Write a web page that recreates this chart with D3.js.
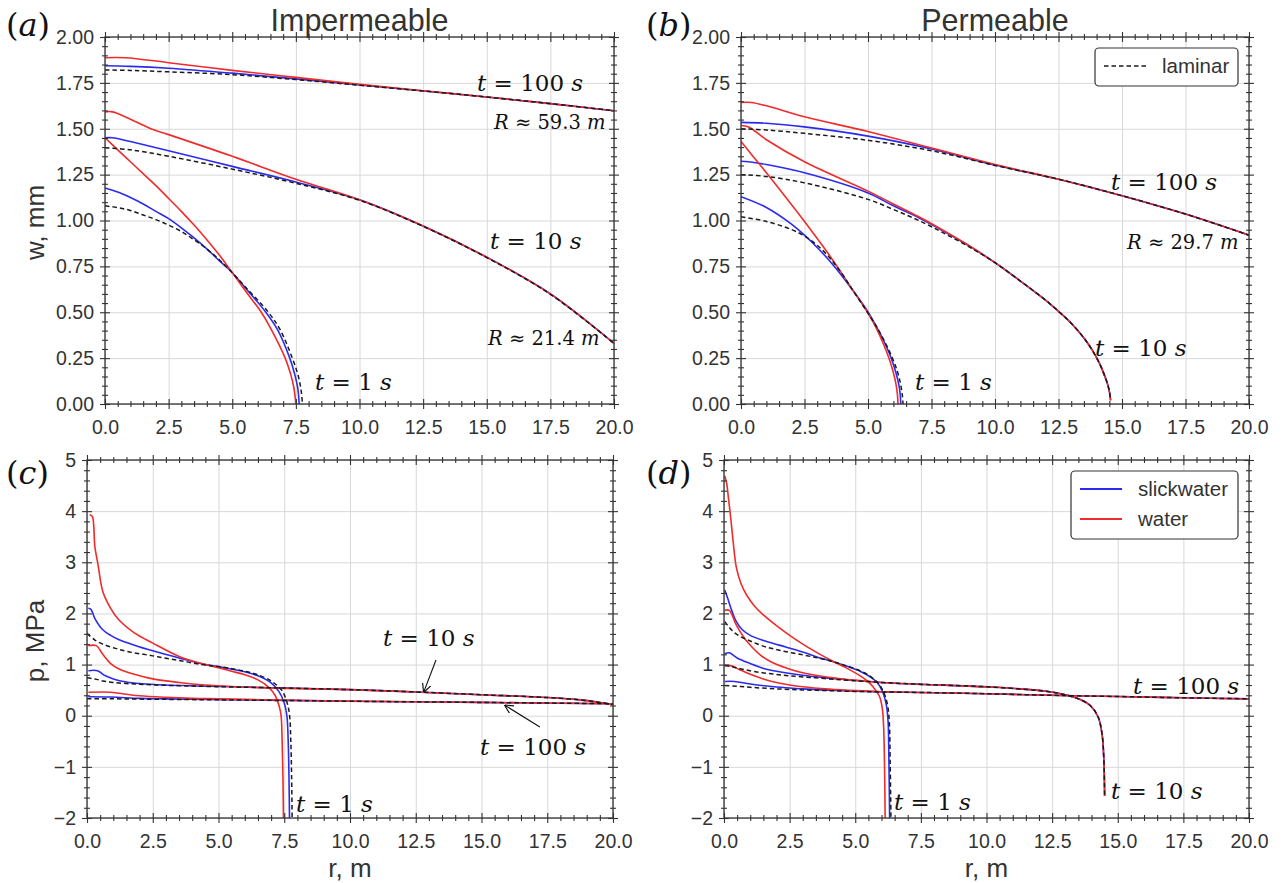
<!DOCTYPE html>
<html><head><meta charset="utf-8">
<script src="https://cdn.jsdelivr.net/npm/d3@7"></script>
<style>body{margin:0;background:#fff}</style>
</head><body>
<svg id="chart" width="1282" height="883"></svg>
<script>
// ---------- tick labels ----------
const rTicks = [0,2.5,5,7.5,10,12.5,15,17.5,20];
const rTickLabels = ["0.0","2.5","5.0","7.5","10.0","12.5","15.0","17.5","20.0"];
const wTicks = [0,0.25,0.5,0.75,1,1.25,1.5,1.75,2];
const wTickLabels = ["0.00","0.25","0.50","0.75","1.00","1.25","1.50","1.75","2.00"];
const pTicks = [-2,-1,0,1,2,3,4,5];
const pTickLabels = ["\u22122","\u22121","0","1","2","3","4","5"];

// ---------- (a) impermeable, opening w [mm] vs r [m] ----------
const a_t1_slick = [[0,1.177],[0.5,1.155],[1,1.125],[1.5,1.09],[2,1.05],[2.5,1.01],[3,0.96],[3.5,0.905],[4,0.845],[4.5,0.78],[4.9,0.73],[5.5,0.635],[6.32,0.5],[6.8,0.4],[7.26,0.25],[7.45,0.165],[7.57,0.09],[7.63,0]];
const a_t1_water = [[0,1.451],[0.5,1.385],[1,1.32],[1.5,1.255],[2,1.19],[2.5,1.12],[3,1.05],[3.5,0.975],[4,0.895],[4.5,0.81],[4.9,0.735],[5.5,0.62],[6.14,0.5],[6.5,0.415],[7.08,0.25],[7.3,0.16],[7.42,0.09],[7.5,0]];
const a_t1_lam = [[0,1.08],[0.5,1.07],[1,1.055],[1.5,1.03],[2,1.005],[2.5,0.975],[3,0.94],[3.5,0.895],[4,0.845],[4.5,0.785],[4.9,0.73],[5.5,0.64],[6.42,0.5],[6.9,0.4],[7.36,0.25],[7.58,0.16],[7.7,0.08],[7.76,0]];
const a_t10_slick = [[0,1.451],[0.3,1.451],[1,1.43],[2.5,1.38],[5,1.295],[7.5,1.21],[10,1.113],[12.5,0.97],[15,0.8],[17.5,0.6],[20,0.33]];
const a_t10_water = [[0,1.592],[0.3,1.592],[1,1.552],[1.8,1.5],[2.5,1.468],[5,1.35],[7.5,1.225],[10,1.113],[12.5,0.97],[15,0.8],[17.5,0.6],[20,0.33]];
const a_t10_lam = [[0,1.396],[1,1.385],[2.5,1.35],[5,1.28],[7.5,1.203],[10,1.11],[12.5,0.968],[15,0.798],[17.5,0.598],[20,0.33]];
const a_t100_slick = [[0,1.843],[1,1.84],[2.5,1.83],[5,1.803],[7.5,1.772],[10,1.739],[12.5,1.706],[15,1.673],[17.5,1.637],[20,1.598]];
const a_t100_water = [[0,1.887],[0.8,1.887],[2.5,1.86],[5,1.818],[7.5,1.78],[10,1.742],[12.5,1.707],[15,1.673],[17.5,1.637],[20,1.598]];
const a_t100_lam = [[0,1.82],[1,1.818],[2.5,1.81],[5,1.795],[7.5,1.768],[10,1.737],[12.5,1.706],[15,1.673],[17.5,1.637],[20,1.598]];

// ---------- (b) permeable, opening w [mm] vs r [m] ----------
const b_t1_slick = [[0,1.13],[1,1.071],[2,0.979],[2.5,0.92],[3,0.853],[3.5,0.778],[4,0.694],[4.4,0.62],[4.7,0.563],[5.0,0.502],[5.3,0.43],[5.6,0.35],[5.9,0.255],[6.1,0.17],[6.22,0.1],[6.27,0.05],[6.29,0]];
const b_t1_water = [[0,1.43],[0.5,1.345],[1,1.26],[1.5,1.173],[2,1.085],[2.5,0.995],[3,0.902],[3.5,0.807],[4,0.705],[4.4,0.62],[4.7,0.56],[5.0,0.495],[5.3,0.42],[5.6,0.33],[5.85,0.24],[6.0,0.17],[6.1,0.11],[6.16,0.05],[6.18,0]];
const b_t1_lam = [[0,1.02],[1,0.995],[2,0.95],[2.5,0.915],[3,0.865],[3.5,0.795],[4,0.705],[4.4,0.62],[4.7,0.558],[5.0,0.495],[5.3,0.43],[5.6,0.355],[5.9,0.27],[6.15,0.18],[6.28,0.11],[6.35,0.05],[6.38,0]];
const b_t10_slick = [[0,1.323],[0.3,1.32],[1,1.305],[2.5,1.26],[5,1.15],[6,1.08],[7,1.015],[8,0.94],[9,0.86],[10,0.77],[11,0.67],[12,0.565],[12.5,0.505],[13,0.44],[13.5,0.36],[13.8,0.3],[14.1,0.225],[14.3,0.16],[14.45,0.1],[14.52,0.055],[14.55,0.02]];
const b_t10_water = [[0,1.518],[0.3,1.51],[1,1.44],[2.5,1.32],[5,1.16],[6,1.09],[7,1.02],[8,0.943],[9,0.861],[10,0.77],[11,0.67],[12,0.565],[12.5,0.505],[13,0.44],[13.5,0.36],[13.8,0.3],[14.1,0.225],[14.3,0.16],[14.45,0.1],[14.52,0.055],[14.55,0.02]];
const b_t10_lam = [[0,1.25],[1,1.24],[2.5,1.205],[5,1.115],[6,1.06],[7,1.0],[8,0.93],[9,0.855],[10,0.77],[11,0.67],[12,0.565],[12.5,0.505],[13,0.44],[13.5,0.36],[13.8,0.3],[14.1,0.225],[14.3,0.16],[14.45,0.1],[14.52,0.055],[14.55,0.02]];
const b_t100_slick = [[0,1.535],[1,1.53],[2.5,1.51],[5,1.46],[7.5,1.39],[10,1.302],[12.5,1.225],[15,1.135],[17.5,1.035],[20,0.92]];
const b_t100_water = [[0,1.643],[0.4,1.643],[1,1.625],[2.5,1.565],[5,1.485],[7.5,1.395],[10,1.305],[12.5,1.225],[15,1.135],[17.5,1.035],[20,0.92]];
const b_t100_lam = [[0,1.5],[1,1.493],[2.5,1.475],[5,1.437],[7.5,1.38],[10,1.3],[12.5,1.225],[15,1.135],[17.5,1.035],[20,0.92]];

// ---------- (c) impermeable, pressure p [MPa] vs r [m] ----------
const c_t1_slick = [[0.05,2.1],[0.15,2.08],[0.3,1.9],[0.6,1.68],[0.9,1.57],[1.2,1.49],[1.8,1.38],[2.5,1.27],[3.5,1.13],[4.5,1.0],[5,0.96],[5.5,0.91],[6,0.86],[6.5,0.78],[7,0.64],[7.3,0.47],[7.5,0.25],[7.6,0],[7.65,-0.5],[7.68,-1.2],[7.7,-2]];
const c_t1_water = [[0.1,3.93],[0.2,3.9],[0.3,3.3],[0.42,2.95],[0.6,2.43],[0.9,2.1],[1.2,1.88],[1.8,1.62],[2.5,1.42],[3.5,1.16],[4.5,1.0],[5,0.94],[5.5,0.87],[6,0.8],[6.5,0.7],[6.9,0.56],[7.15,0.4],[7.3,0.2],[7.38,0],[7.42,-0.5],[7.45,-1.2],[7.47,-2]];
const c_t1_lam = [[0,1.61],[0.3,1.48],[0.6,1.4],[1,1.33],[1.5,1.26],[2.5,1.17],[3.5,1.08],[4.5,0.99],[5,0.96],[5.5,0.92],[6,0.87],[6.5,0.8],[7,0.68],[7.4,0.5],[7.6,0.27],[7.7,0.02],[7.75,-0.5],[7.78,-1.2],[7.8,-2]];
const c_t10_slick = [[0.05,0.88],[0.4,0.88],[0.7,0.78],[1,0.72],[1.5,0.66],[2,0.63],[3,0.6],[4,0.585],[5,0.57],[6,0.56],[7,0.548],[8,0.537],[10,0.51],[12.5,0.465],[15,0.41],[17.5,0.355],[18.75,0.31],[19.5,0.26],[20,0.22]];
const c_t10_water = [[0.05,1.37],[0.35,1.37],[0.6,1.2],[0.9,1.02],[1.2,0.92],[1.8,0.81],[2.5,0.72],[3.5,0.65],[4.5,0.6],[5.5,0.57],[6.5,0.55],[7.5,0.535],[10,0.51],[12.5,0.465],[15,0.41],[17.5,0.355],[18.75,0.31],[19.5,0.26],[20,0.22]];
const c_t10_lam = [[0,0.74],[0.3,0.72],[0.6,0.68],[1,0.65],[2,0.615],[3,0.595],[4,0.58],[5,0.568],[6,0.557],[7,0.547],[8,0.536],[10,0.51],[12.5,0.465],[15,0.41],[17.5,0.355],[18.75,0.31],[19.5,0.26],[20,0.22]];
const c_t100_slick = [[0.05,0.37],[0.9,0.365],[2,0.34],[3,0.33],[5,0.315],[7.5,0.3],[10,0.283],[15,0.26],[20,0.235]];
const c_t100_water = [[0.05,0.46],[0.9,0.46],[1.5,0.42],[2,0.39],[3,0.36],[4,0.34],[5,0.33],[7.5,0.305],[10,0.285],[15,0.26],[20,0.235]];
const c_t100_lam = [[0,0.33],[1,0.33],[2,0.325],[3,0.32],[5,0.31],[7.5,0.298],[10,0.283],[15,0.26],[20,0.235]];

// ---------- (d) permeable, pressure p [MPa] vs r [m] ----------
const d_t1_slick = [[0.03,2.46],[0.15,2.28],[0.3,2.05],[0.47,1.84],[0.7,1.68],[1,1.57],[1.5,1.47],[2.1,1.38],[3,1.245],[3.66,1.13],[4.13,1.06],[4.6,0.98],[5.22,0.86],[5.6,0.75],[5.85,0.64],[6.05,0.46],[6.18,0.22],[6.25,-0.1],[6.28,-0.8],[6.31,-2]];
const d_t1_water = [[0.03,4.69],[0.1,4.55],[0.16,4.3],[0.25,3.9],[0.35,3.4],[0.47,2.9],[0.65,2.58],[0.86,2.36],[1.2,2.12],[1.5,1.97],[2,1.76],[2.42,1.6],[3,1.4],[3.66,1.2],[4.13,1.07],[4.6,0.95],[5.22,0.77],[5.5,0.66],[5.7,0.55],[5.92,0.38],[6.03,0.15],[6.08,-0.2],[6.11,-0.8],[6.14,-2]];
const d_t1_lam = [[0.03,1.84],[0.3,1.67],[0.55,1.57],[1,1.46],[1.5,1.36],[2.2,1.27],[3,1.19],[3.66,1.12],[4.13,1.06],[4.6,0.985],[5.22,0.87],[5.6,0.76],[5.9,0.62],[6.1,0.44],[6.24,0.18],[6.3,-0.15],[6.33,-0.9],[6.36,-2]];
const d_t10_slick = [[0.03,1.21],[0.2,1.23],[0.5,1.13],[1,1.02],[1.48,0.93],[2,0.87],[3,0.79],[4,0.735],[5,0.69],[6.2,0.645],[7.7,0.61],[10.2,0.56],[12.4,0.47],[13,0.41],[13.5,0.33],[13.95,0.2],[14.25,-0.02],[14.4,-0.35],[14.47,-0.85],[14.5,-1.57]];
const d_t10_water = [[0.03,2.06],[0.2,2.06],[0.47,1.77],[0.8,1.5],[1,1.38],[1.4,1.18],[1.8,1.05],[2.4,0.93],[3,0.84],[4,0.75],[4.6,0.71],[5.5,0.67],[6.2,0.645],[7.7,0.61],[10.2,0.56],[12.4,0.47],[13,0.41],[13.5,0.33],[13.95,0.2],[14.25,-0.02],[14.4,-0.35],[14.47,-0.85],[14.5,-1.57]];
const d_t10_lam = [[0.03,0.98],[0.3,0.96],[0.7,0.91],[1.2,0.86],[1.8,0.82],[2.5,0.78],[3.5,0.74],[4.5,0.7],[5.3,0.675],[6.2,0.645],[7.7,0.61],[10.2,0.56],[12.4,0.47],[13,0.41],[13.5,0.33],[13.95,0.2],[14.25,-0.02],[14.4,-0.35],[14.47,-0.85],[14.5,-1.57]];
const d_t100_slick = [[0.03,0.67],[0.4,0.67],[1,0.62],[2,0.56],[3,0.525],[4,0.5],[5,0.48],[6,0.467],[7.5,0.455],[10,0.43],[12.4,0.4],[15,0.375],[17.5,0.35],[20,0.33]];
const d_t100_water = [[0.03,0.98],[0.25,0.98],[0.6,0.9],[1,0.81],[1.5,0.72],[2,0.65],[2.5,0.6],[3,0.565],[4,0.52],[5,0.49],[6,0.47],[7.5,0.455],[10,0.43],[12.4,0.4],[15,0.375],[17.5,0.35],[20,0.33]];
const d_t100_lam = [[0.03,0.59],[0.5,0.575],[1,0.555],[2,0.525],[3,0.505],[4,0.49],[5,0.475],[6,0.465],[7.5,0.455],[10,0.43],[12.4,0.4],[15,0.375],[17.5,0.35],[20,0.33]];

// ---------- styling / layout ----------
const COL = {slick:"#2b2bef", water:"#ef2b2b", lam:"#1a1a1a"};
const SANS = "'Liberation Sans', Arial, sans-serif";
const SERIF = "'DejaVu Serif', serif";
const TXT = "#333";

const svg = d3.select("#chart");
svg.append("rect").attr("width",1282).attr("height",883).attr("fill","#fff");

function panel(id, L, yDom, yTicks, yLabels, yMinor, series) {
  const x = d3.scaleLinear().domain([0,20]).range([L.left, L.right]);
  const y = d3.scaleLinear().domain(yDom).range([L.bottom, L.top]);
  const g = svg.append("g");
  const W = L.right - L.left, H = L.bottom - L.top;

  // grid
  const gx = g.append("g").attr("transform",`translate(0,${L.bottom})`)
    .call(d3.axisBottom(x).tickValues(rTicks).tickSize(-H).tickFormat(""));
  const gy = g.append("g").attr("transform",`translate(${L.left},0)`)
    .call(d3.axisLeft(y).tickValues(yTicks).tickSize(-W).tickFormat(""));
  [gx,gy].forEach(s=>{ s.select(".domain").remove(); s.selectAll("line").attr("stroke","#d8d8d8").attr("stroke-width",1); });

  // curves
  const clipId = "clip"+id;
  g.append("clipPath").attr("id",clipId).append("rect")
    .attr("x",L.left).attr("y",L.top-2).attr("width",W).attr("height",H+2);
  const line = d3.line().x(d=>x(d[0])).y(d=>y(d[1])).curve(d3.curveCatmullRom.alpha(0.5));
  const cg = g.append("g").attr("clip-path",`url(#${clipId})`);
  ["slick","water","lam"].forEach(k=>{
    series.filter(s=>s.k===k).forEach(s=>{
      cg.append("path").attr("d",line(s.d)).attr("fill","none")
        .attr("stroke",COL[k]).attr("stroke-width",k==="lam"?1.5:1.6)
        .attr("stroke-dasharray",k==="lam"?"4.5,3":null)
        .attr("stroke-linejoin","round");
    });
  });

  // axes with ticks (inout)
  const mk = (sel)=>{ sel.select(".domain").remove(); sel.selectAll("line").attr("stroke","#333").attr("stroke-width",1.1); };
  const xMinor = d3.range(0,20.001,0.5).filter(v=>Math.abs(v/2.5-Math.round(v/2.5))>1e-6);
  const yMinorV = d3.range(yDom[0],yDom[1]+1e-6,yMinor).filter(v=>!yTicks.some(t=>Math.abs(t-v)<1e-6));

  // bottom
  const ab = g.append("g").attr("transform",`translate(0,${L.bottom})`)
    .call(d3.axisBottom(x).tickValues(rTicks).tickFormat((d,i)=>rTickLabels[i]).tickSize(5).tickPadding(11));
  mk(ab); ab.selectAll(".tick line").attr("y1",-5);
  ab.selectAll("text").attr("font-family",SANS).attr("font-size",19.5).attr("fill",TXT);
  const abm = g.append("g").attr("transform",`translate(0,${L.bottom})`)
    .call(d3.axisBottom(x).tickValues(xMinor).tickFormat("").tickSize(3));
  mk(abm); abm.selectAll(".tick line").attr("y1",-3);
  // top
  const at = g.append("g").attr("transform",`translate(0,${L.top})`)
    .call(d3.axisTop(x).tickValues(rTicks).tickFormat("").tickSize(5));
  mk(at); at.selectAll(".tick line").attr("y1",5);
  const atm = g.append("g").attr("transform",`translate(0,${L.top})`)
    .call(d3.axisTop(x).tickValues(xMinor).tickFormat("").tickSize(3));
  mk(atm); atm.selectAll(".tick line").attr("y1",3);
  // left
  const al = g.append("g").attr("transform",`translate(${L.left},0)`)
    .call(d3.axisLeft(y).tickValues(yTicks).tickFormat((d,i)=>yLabels[i]).tickSize(5).tickPadding(6));
  mk(al); al.selectAll(".tick line").attr("x1",5);
  al.selectAll("text").attr("font-family",SANS).attr("font-size",19.5).attr("fill",TXT);
  const alm = g.append("g").attr("transform",`translate(${L.left},0)`)
    .call(d3.axisLeft(y).tickValues(yMinorV).tickFormat("").tickSize(3));
  mk(alm); alm.selectAll(".tick line").attr("x1",3);
  // right
  const ar = g.append("g").attr("transform",`translate(${L.right},0)`)
    .call(d3.axisRight(y).tickValues(yTicks).tickFormat("").tickSize(5));
  mk(ar); ar.selectAll(".tick line").attr("x1",-5);
  const arm = g.append("g").attr("transform",`translate(${L.right},0)`)
    .call(d3.axisRight(y).tickValues(yMinorV).tickFormat("").tickSize(3));
  mk(arm); arm.selectAll(".tick line").attr("x1",-3);

  // frame
  g.append("rect").attr("x",L.left).attr("y",L.top).attr("width",W).attr("height",H)
    .attr("fill","none").attr("stroke","#333").attr("stroke-width",1.3);
  return {x,y,g};
}

function mathText(x, y, parts, size) {
  const t = svg.append("text").attr("x",x).attr("y",y)
    .attr("font-family",SERIF).attr("font-size",size).attr("fill","#111");
  parts.forEach(p=>{
    t.append("tspan").attr("font-style",p[1]?"italic":"normal").text(p[0]);
  });
  return t;
}
function tLabel(x,y,num){ return mathText(x,y,[["t",1],[" = "+num+" ",0],["s",1]],23); }
function rLabel(x,y,num){ return mathText(x,y,[["R",1],[" \u2248 "+num+" ",0],["m",1]],19.5); }
function letter(x,y,ch){ return mathText(x,y,[["(",0],[ch,1],[")",0]],32); }

const LA = {left:105,right:614,top:37,bottom:404};
const LB = {left:741,right:1249,top:37,bottom:404};
const LC = {left:87,right:613,top:460,bottom:818};
const LD = {left:724,right:1249,top:460,bottom:818};

const pa = panel("a", LA, [0,2], wTicks, wTickLabels, 0.05, [
  {k:"slick",d:a_t1_slick},{k:"water",d:a_t1_water},{k:"lam",d:a_t1_lam},
  {k:"slick",d:a_t10_slick},{k:"water",d:a_t10_water},{k:"lam",d:a_t10_lam},
  {k:"slick",d:a_t100_slick},{k:"water",d:a_t100_water},{k:"lam",d:a_t100_lam}]);
const pb = panel("b", LB, [0,2], wTicks, wTickLabels, 0.05, [
  {k:"slick",d:b_t1_slick},{k:"water",d:b_t1_water},{k:"lam",d:b_t1_lam},
  {k:"slick",d:b_t10_slick},{k:"water",d:b_t10_water},{k:"lam",d:b_t10_lam},
  {k:"slick",d:b_t100_slick},{k:"water",d:b_t100_water},{k:"lam",d:b_t100_lam}]);
const pc = panel("c", LC, [-2,5], pTicks, pTickLabels, 0.2, [
  {k:"slick",d:c_t1_slick},{k:"water",d:c_t1_water},{k:"lam",d:c_t1_lam},
  {k:"slick",d:c_t10_slick},{k:"water",d:c_t10_water},{k:"lam",d:c_t10_lam},
  {k:"slick",d:c_t100_slick},{k:"water",d:c_t100_water},{k:"lam",d:c_t100_lam}]);
const pd = panel("d", LD, [-2,5], pTicks, pTickLabels, 0.2, [
  {k:"slick",d:d_t1_slick},{k:"water",d:d_t1_water},{k:"lam",d:d_t1_lam},
  {k:"slick",d:d_t10_slick},{k:"water",d:d_t10_water},{k:"lam",d:d_t10_lam},
  {k:"slick",d:d_t100_slick},{k:"water",d:d_t100_water},{k:"lam",d:d_t100_lam}]);

// titles
svg.append("text").attr("x",(LA.left+LA.right)/2).attr("y",31).attr("text-anchor","middle")
  .attr("font-family",SANS).attr("font-size",30.5).attr("fill",TXT).text("Impermeable");
svg.append("text").attr("x",(LB.left+LB.right)/2).attr("y",31).attr("text-anchor","middle")
  .attr("font-family",SANS).attr("font-size",30.5).attr("fill",TXT).text("Permeable");

// axis labels
svg.append("text").attr("transform",`translate(44,${(LA.top+LA.bottom)/2+2}) rotate(-90)`)
  .attr("text-anchor","middle").attr("font-family",SANS).attr("font-size",26).attr("fill",TXT).text("w, mm");
svg.append("text").attr("transform",`translate(44,${(LC.top+LC.bottom)/2+2}) rotate(-90)`)
  .attr("text-anchor","middle").attr("font-family",SANS).attr("font-size",26).attr("fill",TXT).text("p, MPa");
svg.append("text").attr("x",(LC.left+LC.right)/2).attr("y",877).attr("text-anchor","middle")
  .attr("font-family",SANS).attr("font-size",26).attr("fill",TXT).text("r, m");
svg.append("text").attr("x",(LD.left+LD.right)/2).attr("y",877).attr("text-anchor","middle")
  .attr("font-family",SANS).attr("font-size",26).attr("fill",TXT).text("r, m");

// panel letters
letter(6,36,"a"); letter(646,36,"b"); letter(6,484,"c"); letter(646,484,"d");

// annotations
tLabel(477,91,"100"); rLabel(494,129,"59.3");
tLabel(490,249,"10");  rLabel(488,345,"21.4");
tLabel(315,390,"1");
tLabel(1111,190,"100"); rLabel(1127,249,"29.7");
tLabel(1095,356,"10"); tLabel(915,390,"1");
tLabel(383,646,"10"); tLabel(480,755,"100"); tLabel(296,812,"1");
tLabel(1133,694,"100"); tLabel(1111,799,"10"); tLabel(894,810,"1");

// arrows in (c)
const defs = svg.append("defs");
defs.append("marker").attr("id","arr").attr("viewBox","0 0 10 10").attr("refX",9).attr("refY",5)
  .attr("markerWidth",9).attr("markerHeight",9).attr("orient","auto-start-reverse")
  .attr("markerUnits","userSpaceOnUse")
  .append("path").attr("d","M0,0 L10,5 L0,10").attr("fill","none").attr("stroke","#111").attr("stroke-width",1.3);
function arrow(p, from, to){
  svg.append("line").attr("x1",p.x(from[0])).attr("y1",p.y(from[1]))
    .attr("x2",p.x(to[0])).attr("y2",p.y(to[1]))
    .attr("stroke","#111").attr("stroke-width",1.1).attr("marker-end","url(#arr)");
}
arrow(pc,[13.27,1.09],[12.81,0.47]);
arrow(pc,[17.22,-0.22],[15.9,0.2]);

// legends
function legend(x,y,w,h,items){
  const g = svg.append("g");
  g.append("rect").attr("x",x).attr("y",y).attr("width",w).attr("height",h).attr("rx",4)
    .attr("fill","#fff").attr("stroke","#333").attr("stroke-width",1.2);
  items.forEach((it,i)=>{
    const yy = y + 18 + i*30;
    g.append("line").attr("x1",x+9).attr("x2",x+51).attr("y1",yy).attr("y2",yy)
      .attr("stroke",COL[it.k]).attr("stroke-width",it.k==="lam"?1.5:1.8)
      .attr("stroke-dasharray",it.k==="lam"?"4.5,3":null);
    g.append("text").attr("x",x+67).attr("y",yy+7).attr("font-family",SANS).attr("font-size",20.5)
      .attr("fill",TXT).text(it.t);
  });
}
legend(1095,48,143,38,[{k:"lam",t:"laminar"}]);
legend(1071,471,167,68,[{k:"slick",t:"slickwater"},{k:"water",t:"water"}]);
</script>
</body></html>
